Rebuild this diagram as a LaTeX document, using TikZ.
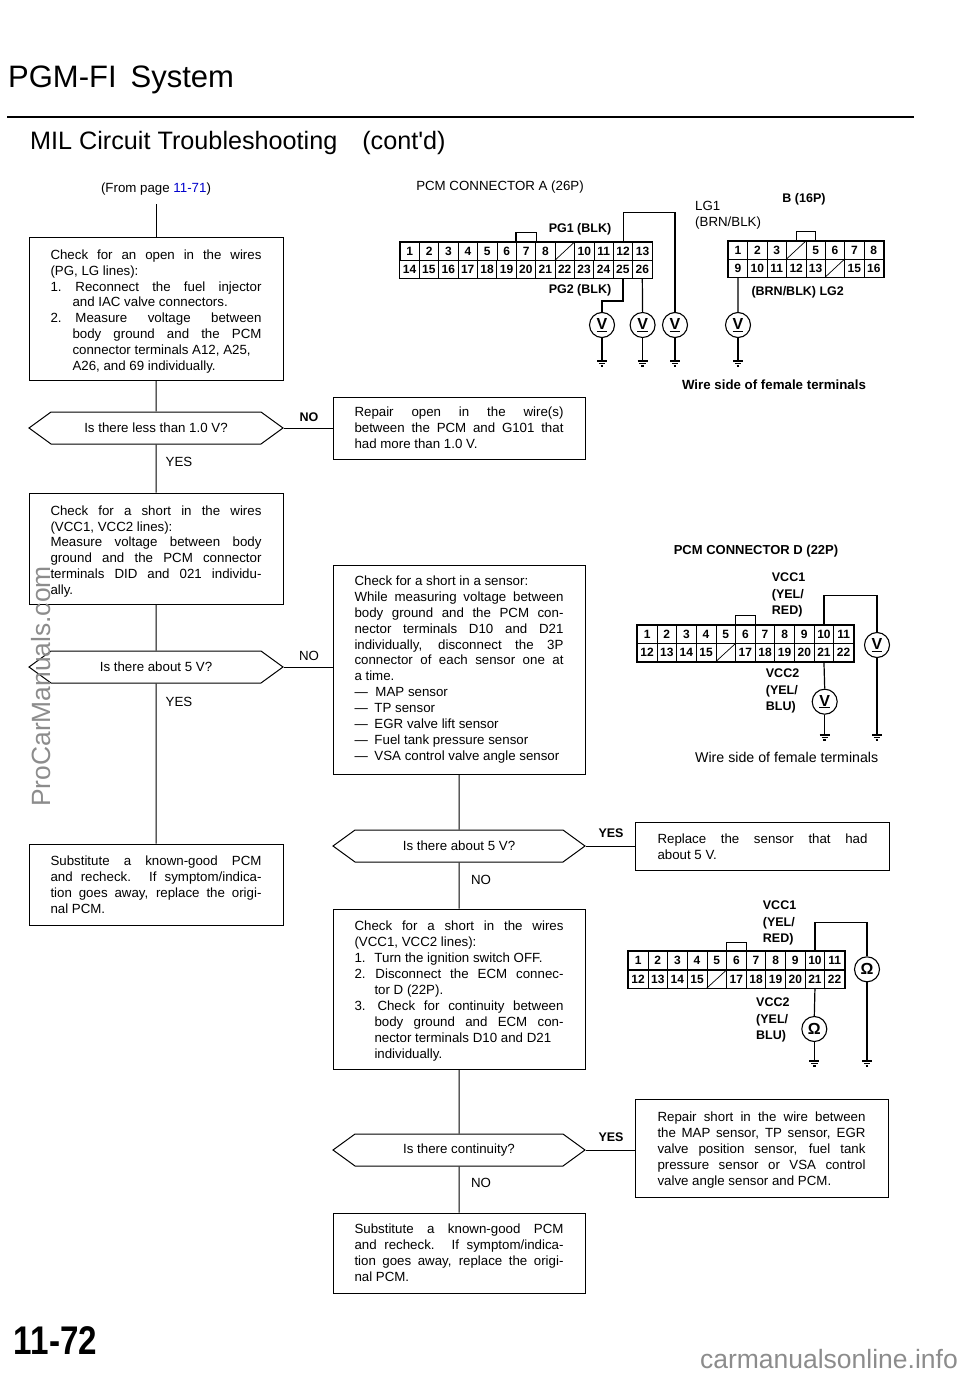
\documentclass[tikz,border=0pt]{standalone}
\usepackage{fontspec}
\setmainfont{Liberation Sans}
\usetikzlibrary{shapes.symbols}
\newcommand{\txtfont}{\fontsize{13.3}{15.9}\selectfont\sloppy}
\newcommand{\pinfont}{\fontsize{12}{12}\selectfont\bfseries}
\newcommand{\itemno}[2][25pt]{\makebox[#1][l]{#2}}
\definecolor{wmgray}{gray}{0.55}
\tikzset{
  stepbox/.style={draw, line width=1pt, inner sep=0pt, minimum width=254pt, text width=211pt, align=justify, font=\txtfont},
  lower/.style={execute at begin node={\leavevmode\rule{0pt}{#1}}},
  askbox/.style={draw, line width=1pt, inner sep=0pt, signal, signal to=west and east, signal pointer angle=72, minimum width=254pt, minimum height=32pt, font=\txtfont},
  flow/.style={line width=1pt},
  wire/.style={line width=1.2pt},
  tag/.style={inner sep=0pt, font=\txtfont},
  boldtag/.style={inner sep=0pt, font=\fontsize{12.5}{16.5}\selectfont\bfseries, align=left},
  pin/.style={draw, line width=.7pt, inner sep=0pt, minimum width=19.4pt, minimum height=18pt, text height=8.5pt, text depth=0pt, font=\pinfont},
  meter/.style={draw, circle, line width=1.1pt, inner sep=0pt, minimum size=25pt, fill=white, font=\fontsize{16}{16}\selectfont\bfseries},
  gnd/.pic={\draw[line width=1.1pt] (-5,0) -- (5,0) (-3.2,2.5) -- (3.2,2.5) (-1.3,5) -- (1.3,5);}
}
\begin{document}
\begin{tikzpicture}[x=1pt, y=-1pt]
  \useasboundingbox (0,0) rectangle (960,1375);
  % titulos
  \node[anchor=west, inner sep=0pt, font=\fontsize{31}{31}\selectfont] (title) at (8,80) {PGM-FI\hspace{14pt}System};
  \draw[line width=2pt] (7,117) -- (914,117);
  \node[anchor=west, inner sep=0pt, font=\fontsize{25.2}{25}\selectfont] (subtitle) at (30,143) {MIL Circuit Troubleshooting\hspace{25pt}(cont\textquotesingle d)};

  % columna izquierda
  \node[tag] (from) at (156,189) {(From page \textcolor{blue!80!black}{11-71})};
  \coordinate (start) at (156,204);
  \node[stepbox, lower=15.6pt, minimum height=143pt] (check1) at (156,308.5) {Check for an open in the wires\linebreak
    (PG, LG lines):\\
    \itemno{1.}Reconnect the fuel injector\linebreak
    \hspace*{22pt}and IAC valve connectors.\\
    \itemno{2.}Measure voltage between\linebreak
    \hspace*{22pt}body ground and the PCM\linebreak
    \hspace*{22pt}connector terminals A12, A25,\\
    \hspace*{22pt}A26, and 69 individually.};
  \node[askbox] (ask1) at (156,428) {Is there less than 1.0 V?};
  \node[tag] (yes1) at (179,462) {YES};
  \node[stepbox, lower=15.6pt, minimum height=111pt] (check2) at (156,548.5) {Check for a short in the wires\linebreak
    (VCC1, VCC2 lines):\\
    Measure voltage between body\linebreak
    ground and the PCM connector\linebreak
    terminals DID and 021 individu-\linebreak
    ally.};
  \node[askbox] (ask2) at (156,667) {Is there about 5 V?};
  \node[tag] (yes2) at (179,702) {YES};
  \node[stepbox, minimum height=81pt] (subst1) at (156,884.5) {Substitute a known-good PCM\linebreak
    and recheck. If symptom/indica-\linebreak
    tion goes away, replace the origi-\linebreak
    nal PCM.};
  \draw[flow] (start) -- (check1);
  \draw[flow] (check1) -- (ask1);
  \draw[flow] (ask1) -- (check2);
  \draw[flow] (check2) -- (ask2);
  \draw[flow] (ask2) -- (subst1);

  % columna central
  \node[stepbox, minimum height=62pt, text width=209pt, minimum width=252pt] (repair1) at (459,428) {Repair open in the wire(s)\linebreak
    between the PCM and G101 that\linebreak
    had more than 1.0 V.};
  \node[stepbox, minimum height=209pt, text width=209pt, minimum width=252pt] (sensor) at (459,669.5) {Check for a short in a sensor:\\
    While measuring voltage between\linebreak
    body ground and the PCM con-\linebreak
    nector terminals D10 and D21\linebreak
    individually, disconnect the 3P\linebreak
    connector of each sensor one at\linebreak
    a time.\\
    \itemno[21pt]{—}MAP sensor\\
    \itemno[20pt]{—}TP sensor\\
    \itemno[20pt]{—}EGR valve lift sensor\\
    \itemno[20pt]{—}Fuel tank pressure sensor\\
    \itemno[20pt]{—}VSA control valve angle sensor};
  \node[askbox, minimum width=252pt] (ask3) at (459,846) {Is there about 5 V?};
  \node[tag] (no3) at (481,880) {NO};
  \node[stepbox, lower=13.6pt, minimum height=160pt, text width=209pt, minimum width=252pt] (check3) at (459,989) {Check for a short in the wires\linebreak
    (VCC1, VCC2 lines):\\
    \itemno[20pt]{1.}Turn the ignition switch OFF.\\
    \itemno[21pt]{2.}Disconnect the ECM connec-\linebreak
    \hspace*{20pt}tor D (22P).\\
    \itemno[23pt]{3.}Check for continuity between\linebreak
    \hspace*{20pt}body ground and ECM con-\linebreak
    \hspace*{20pt}nector terminals D10 and D21\\
    \hspace*{20pt}individually.};
  \node[askbox, minimum width=252pt] (ask4) at (459,1150) {Is there continuity?};
  \node[tag] (no4) at (481,1183) {NO};
  \node[stepbox, minimum height=80pt, text width=209pt, minimum width=252pt] (subst2) at (459,1253) {Substitute a known-good PCM\linebreak
    and recheck. If symptom/indica-\linebreak
    tion goes away, replace the origi-\linebreak
    nal PCM.};
  \draw[flow] (sensor) -- (ask3);
  \draw[flow] (ask3) -- (check3);
  \draw[flow] (check3) -- (ask4);
  \draw[flow] (ask4) -- (subst2);

  % columna derecha
  \node[stepbox, lower=11.6pt, minimum height=48pt, text width=210pt] (replace) at (762.5,846) {Replace the sensor that had\linebreak
    about 5 V.};
  \node[stepbox, lower=13.6pt, minimum height=98pt, text width=208pt, minimum width=253pt] (repair2) at (761.5,1148) {Repair short in the wire between\linebreak
    the MAP sensor, TP sensor, EGR\linebreak
    valve position sensor, fuel tank\linebreak
    pressure sensor or VSA control\linebreak
    valve angle sensor and PCM.};

  % ramas
  \node[boldtag] (no1) at (309,417) {NO};
  \node[tag] (no2) at (309,656) {NO};
  \node[boldtag] (yes3) at (611,833) {YES};
  \node[boldtag] (yes4) at (611,1137) {YES};
  \draw[flow] (ask1.east) -- (repair1.west);
  \draw[flow] (ask2.east) -- (ask2.east -| sensor.west);
  \draw[flow] (ask3.east) -- (replace.west);
  \draw[flow] (ask4.east) -- (ask4.east -| repair2.west);

  % conector A
  \node[tag] (titleA) at (500,187) {PCM CONNECTOR A (26P)};
  \foreach \t [count=\i] in {1,2,3,4,5,6,7,8,{},10,11,12,13}
    \node[pin] (a\i) at (409.7+\i*19.4-19.4,251) {\t};
  \foreach \t [count=\i from 14] in {14,15,16,17,18,19,20,21,22,23,24,25,26}
    \node[pin] (a\i) at (409.7+\i*19.4-271.8,269) {\t};
  \draw[line width=1.5pt] (a1.north west) rectangle (a26.south east);
  \draw[line width=.7pt] (a9.south west) -- (a9.north east);
  \draw[wire] (a7.north west) -- ++(0,-9) -| (a7.north east);
  \node[boldtag] (pg1) at (580,229) {PG1 (BLK)};
  \node[boldtag] (pg2) at (580,290) {PG2 (BLK)};
  \node[tag, align=left, anchor=west] (lg1) at (695,215.5) {LG1\\(BRN/BLK)};
  \node[meter] (va25) at (602,325) {\underline{V}};
  \node[meter] (va26) at (642.6,325) {\underline{V}};
  \node[meter] (va12) at (675,325) {\underline{V}};
  \draw[wire] (a25.south) -- ++(0,22.7) -| (va25.north);
  \draw[wire] (a26.south) -- (va26.north);
  \draw[wire] (a12.north) -- ++(0,-29) -| (va12.north);

  % conector B
  \node[boldtag] (titleB) at (804,199) {B (16P)};
  \foreach \t [count=\i] in {1,2,3,{},5,6,7,8}
    \node[pin] (b\i) at (738+\i*19.4-19.4,250) {\t};
  \foreach \t [count=\i from 9] in {9,10,11,12,13,{},15,16}
    \node[pin] (b\i) at (738+\i*19.4-174.6,268) {\t};
  \draw[line width=1.5pt] (b1.north west) rectangle (b16.south east);
  \draw[line width=.7pt] (b4.south west) -- (b4.north east);
  \draw[line width=.7pt] (b14.south west) -- (b14.north east);
  \draw[wire] (b4.north) -- ++(0,-9) -| (b5.north);
  \node[boldtag] (lg2) at (797.7,292) {(BRN/BLK) LG2};
  \node[meter] (vb9) at (738,325) {\underline{V}};
  \draw[wire] (b9.south) -- (vb9.north);
  \node[boldtag, font=\fontsize{13.3}{16}\selectfont\bfseries] (sideA) at (774,385) {Wire side of female terminals};

  % tierras de los voltimetros
  \foreach \m/\x in {va25/602,va26/642.6,va12/675,vb9/738} {
    \coordinate (g\m) at (\x,361);
    \draw[wire] (\m.south) -- (g\m);
    \pic at (g\m) {gnd};
  }

  % conector D, voltaje
  \node[boldtag, font=\fontsize{13}{16}\selectfont\bfseries] (titleD) at (756,551) {PCM CONNECTOR D (22P)};
  \foreach \t [count=\i] in {1,2,3,4,5,6,7,8,9,10,11}
    \node[pin, minimum width=19.65pt] (d\i) at (647.1+\i*19.65-19.65,634) {\t};
  \foreach \t [count=\i from 12] in {12,13,14,15,{},17,18,19,20,21,22}
    \node[pin, minimum width=19.65pt] (d\i) at (647.1+\i*19.65-235.8,652.5) {\t};
  \draw[line width=1.5pt] (d1.north west) rectangle (d22.south east);
  \draw[line width=.7pt] (d16.south west) -- (d16.north east);
  \draw[wire] (d6.north west) -- ++(0,-9) -| (d6.north east);
  \node[boldtag, anchor=west] (vcc1d) at (771.7,595) {VCC1\\(YEL/\\RED)};
  \node[boldtag, anchor=west] (vcc2d) at (765.7,691) {VCC2\\(YEL/\\BLU)};
  \node[meter] (vd21) at (824.7,701.7) {\underline{V}};
  \node[meter] (vd10) at (877,645) {\underline{V}};
  \coordinate (gd21) at (824.7,735);
  \coordinate (gd10) at (877,735);
  \draw[wire] (d21.south) -- (vd21.north);
  \draw[wire] (vd21.south) -- (gd21);
  \draw[wire] (d10.north) -- ++(0,-29) -| (vd10.north);
  \draw[wire] (vd10.south) -- (gd10);
  \pic at (gd21) {gnd};
  \pic at (gd10) {gnd};
  \node[tag, font=\fontsize{14.2}{16}\selectfont] (sideD) at (786.7,757) {Wire side of female terminals};

  % conector D, continuidad
  \foreach \t [count=\i] in {1,2,3,4,5,6,7,8,9,10,11}
    \node[pin, minimum width=19.65pt] (o\i) at (638.1+\i*19.65-19.65,960.5) {\t};
  \foreach \t [count=\i from 12] in {12,13,14,15,{},17,18,19,20,21,22}
    \node[pin, minimum width=19.65pt] (o\i) at (638.1+\i*19.65-235.8,979) {\t};
  \draw[line width=1.5pt] (o1.north west) rectangle (o22.south east);
  \draw[line width=.7pt] (o16.south west) -- (o16.north east);
  \draw[wire] (o6.north west) -- ++(0,-9) -| (o6.north east);
  \node[boldtag, anchor=west] (vcc1o) at (762.7,923) {VCC1\\(YEL/\\RED)};
  \node[boldtag, anchor=west] (vcc2o) at (756,1020) {VCC2\\(YEL/\\BLU)};
  \node[meter] (ro21) at (814.3,1029) {Ω};
  \node[meter] (ro10) at (867,969.3) {Ω};
  \coordinate (go21) at (814.3,1061);
  \coordinate (go10) at (867,1061);
  \draw[wire] (o21.south) -- (ro21.north);
  \draw[wire] (ro21.south) -- (go21);
  \draw[wire] (o10.north) -- ++(0,-29) -| (ro10.north);
  \draw[wire] (ro10.south) -- (go10);
  \pic at (go21) {gnd};
  \pic at (go10) {gnd};

  % pie de pagina
  \node[inner sep=0pt, xscale=.83, font=\fontsize{40}{40}\selectfont\bfseries] (pageno) at (55.5,1341) {11-72};
  \node[anchor=base west, inner sep=0pt, rotate=90, text=wmgray, font=\fontsize{26.4}{27}\selectfont] (wm1) at (50,807) {ProCarManuals.com};
  \node[anchor=base east, inner sep=0pt, text=wmgray, font=\fontsize{26.5}{27}\selectfont] (wm2) at (958,1368) {carmanualsonline.info};
\end{tikzpicture}
\end{document}
